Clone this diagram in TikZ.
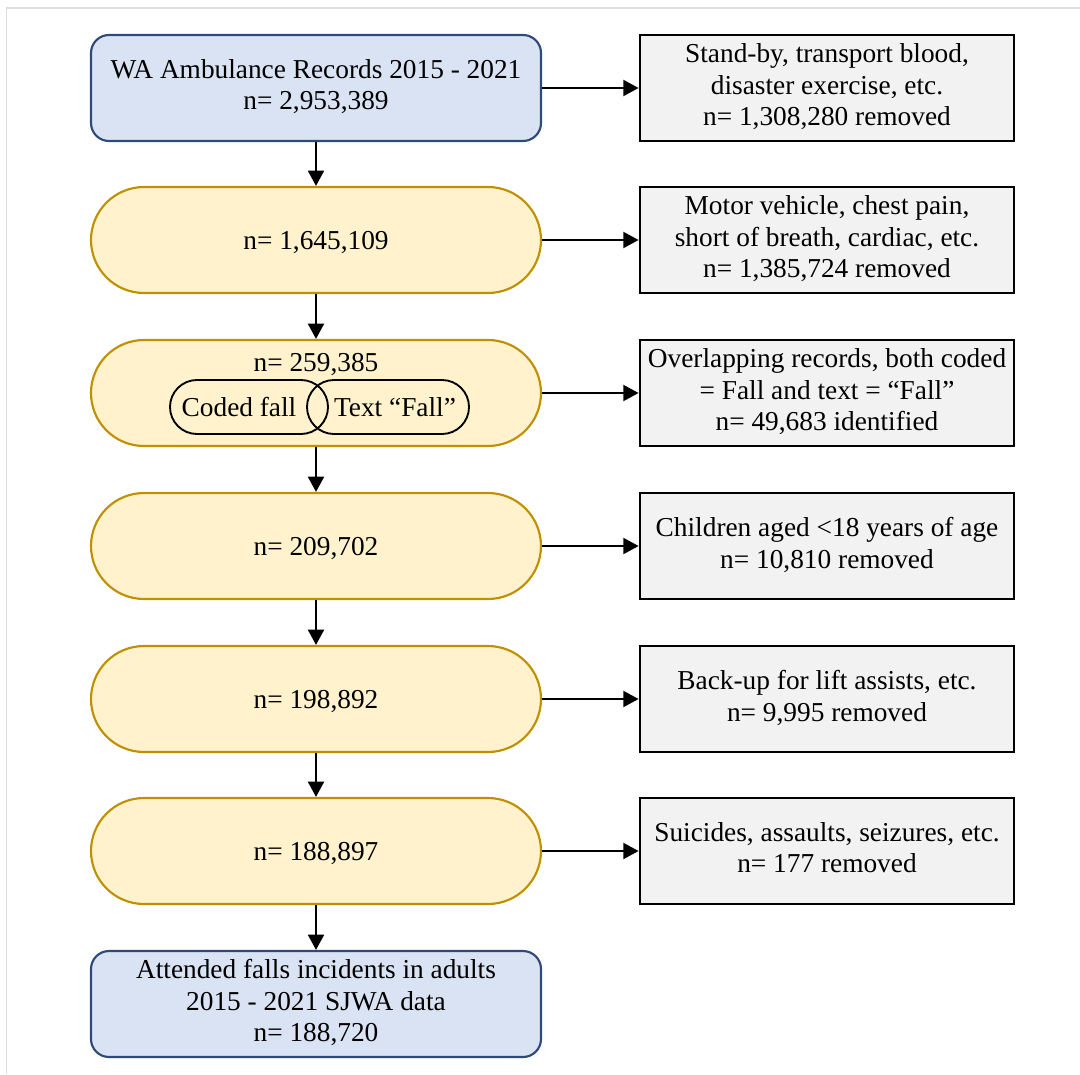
\documentclass[tikz,border=0pt]{standalone}
\usepackage{fontspec}
\setmainfont{Liberation Serif}
\usetikzlibrary{arrows.meta}
\definecolor{blueFill}{HTML}{DAE3F3}
\definecolor{blueLine}{HTML}{2F4A78}
\definecolor{yellowFill}{HTML}{FFF2CC}
\definecolor{yellowLine}{HTML}{BF9000}
\definecolor{greyFill}{HTML}{F2F2F2}
\definecolor{frameLine}{HTML}{DDDDDD}
% line box used at the top and bottom of every label
\newcommand\linestrut{\rule[-5.05pt]{0pt}{23.75pt}}

\begin{document}
\begin{tikzpicture}[x=0.75pt,y=-0.75pt,
  font=\fontsize{20.5}{23.75}\selectfont,
  every node/.style={execute at begin node=\linestrut, execute at end node=\linestrut},
  base/.style={align=center, inner sep=0pt, minimum width=337.5pt, minimum height=79.5pt},
  bluebox/.style={base, fill=blueFill, draw=blueLine, line width=1.6pt, rounded corners=13.5pt},
  pill/.style={base, fill=yellowFill, draw=yellowLine, line width=1.6pt, rounded corners=39.75pt},
  sidebox/.style={align=center, inner sep=0pt, minimum width=280.5pt, minimum height=79.5pt,
    fill=greyFill, draw=black, line width=2.1pt},
  tag/.style={inner sep=0pt, minimum height=40.5pt, draw=black, line width=1.4pt, rounded corners=20.25pt},
  flow/.style={-{Triangle[length=11.5pt,width=12pt]}, line width=1.6pt}]

\useasboundingbox (0,0) rectangle (1080,1074);
% light frame along the top and left edges
\draw[frameLine, line width=1pt] (6.5,1074) -- (6.5,8) -- (1080,8);

% main column
\node[bluebox] (b1) at (316,88)  {WA Ambulance Records 2015 - 2021\\n= 2,953,389};
\node[pill]    (b2) at (316,240) {n= 1,645,109};
\node[pill]    (b3) at (316,393) {};
\node[pill]    (b4) at (316,546) {n= 209,702};
\node[pill]    (b5) at (316,699) {n= 198,892};
\node[pill]    (b6) at (316,851) {n= 188,897};
\node[bluebox] (b7) at (316,1004) {Attended falls incidents in adults\\2015 - 2021 SJWA data\\n= 188,720};

% contents of the overlap stage
\node (n3) at (316,362) {n= 259,385};
\node[tag, minimum width=118.5pt] (coded) at (249,407) {};
\node[tag, minimum width=121.5pt] (text)  at (388,407) {};
\node (codedlbl) at (239,407) {Coded fall};
\node (textlbl)  at (395,407) {Text “Fall”};

% exclusions
\node[sidebox] (r1) at (827,88)  {Stand-by, transport blood,\\disaster exercise, etc.\\n= 1,308,280 removed};
\node[sidebox] (r2) at (827,240) {Motor vehicle, chest pain,\\short of breath, cardiac, etc.\\n= 1,385,724 removed};
\node[sidebox] (r3) at (827,393) {Overlapping records, both coded\\= Fall and text = “Fall”\\n= 49,683 identified};
\node[sidebox] (r4) at (827,546) {Children aged <18 years of age\\n= 10,810 removed};
\node[sidebox] (r5) at (827,699) {Back-up for lift assists, etc.\\n= 9,995 removed};
\node[sidebox] (r6) at (827,851) {Suicides, assaults, seizures, etc.\\n= 177 removed};

% connectors
\foreach \a/\b in {b1/b2, b2/b3, b3/b4, b4/b5, b5/b6, b6/b7}
  \draw[flow] (\a.south) -- (\b.north);
\foreach \i in {1,...,6}
  \draw[flow] (b\i.east) -- (r\i.west);
\end{tikzpicture}
\end{document}
